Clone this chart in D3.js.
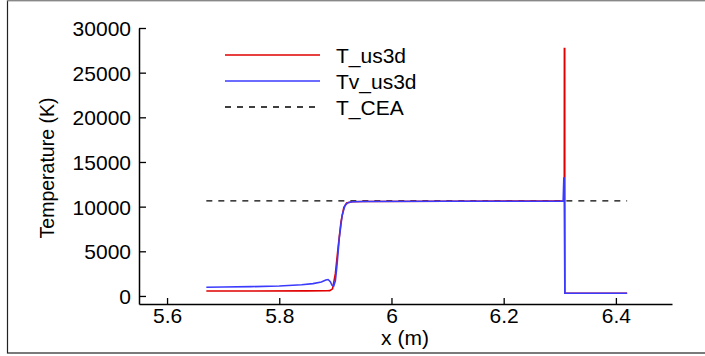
<!DOCTYPE html>
<html><head><meta charset="utf-8">
<script src="https://cdn.jsdelivr.net/npm/d3@7"></script>
<style>html,body{margin:0;padding:0;background:#fff;}svg{display:block;}text{font-family:"Liberation Sans",Arial,sans-serif;fill:#000;}</style>
</head><body><svg id="c" width="705" height="356"></svg>
<script>
// data
const xTicks = [5.6, 5.8, 6, 6.2, 6.4];
const yTicks = [0, 5000, 10000, 15000, 20000, 25000, 30000];
const seriesNames = ["T_us3d", "Tv_us3d", "T_CEA"];
const T_us3d = [[5.67,560],[5.75,560],[5.85,565],[5.885,575],[5.89,600],[5.895,800],[5.9,2500],[5.905,5500],[5.91,8300],[5.915,9900],[5.92,10400],[5.93,10550],[5.95,10580],[6.1,10600],[6.25,10620],[6.305,10630],[6.308,10600],[6.3082,27700],[6.3088,27700],[6.309,300],[6.32,300],[6.42,300]];
const Tv_us3d = [[5.67,980],[5.7,1000],[5.75,1040],[5.8,1120],[5.84,1250],[5.86,1380],[5.875,1570],[5.883,1780],[5.887,1840],[5.891,1600],[5.894,1200],[5.897,1100],[5.9,1700],[5.903,3500],[5.907,6500],[5.912,9000],[5.917,10100],[5.922,10450],[5.93,10550],[5.95,10580],[6.1,10600],[6.25,10610],[6.306,10620],[6.3072,13200],[6.3078,13200],[6.309,300],[6.32,300],[6.42,300]];
const T_CEA = [[5.67,10650],[6.42,10650]];

const svg = d3.select("#c");
const L = 139, R = 672, T = 28, B = 304;
const x = d3.scaleLinear().domain([5.55, 6.5]).range([L, R]);
const y = d3.scaleLinear().domain([-900, 30000]).range([B, T]);

// frame
svg.append("rect").attr("x",7.5).attr("y",0.5).attr("width",710).attr("height",352.5)
  .attr("fill","none").attr("stroke","#222").attr("stroke-width",1.2);
svg.append("line").attr("x1",7).attr("x2",705).attr("y1",0.5).attr("y2",0.5).attr("stroke","#888").attr("stroke-width",1.5);

const xAxis = d3.axisBottom(x).tickValues(xTicks).tickSizeInner(-6).tickSizeOuter(0).tickPadding(4).tickFormat(d3.format("~g"));
const gx = svg.append("g").attr("transform",`translate(0,${B})`).call(xAxis);
const yAxis = d3.axisLeft(y).tickValues(yTicks).tickSizeInner(-7).tickSizeOuter(0).tickPadding(8).tickFormat(d3.format("d"));
const gy = svg.append("g").attr("transform",`translate(${L},0)`).call(yAxis);
[gx, gy].forEach(g => {
  g.select(".domain").attr("stroke","#000").attr("stroke-width",1.5);
  g.selectAll(".tick line").attr("stroke","#000").attr("stroke-width",1.3);
  g.selectAll(".tick text").attr("font-size",21).attr("font-family","Liberation Sans, Arial, sans-serif").attr("fill","#000");
});
gy.selectAll(".tick text").attr("dy","0.36em");

svg.append("text").attr("x",405).attr("y",345).attr("text-anchor","middle").attr("font-size",21).text("x (m)");
svg.append("text").attr("transform","translate(54,168) rotate(-90)").attr("text-anchor","middle").attr("font-size",19.5).text("Temperature (K)");

const line = d3.line().x(d=>x(d[0])).y(d=>y(d[1]));
const colors = ["#e00000", "#3b3bff", "#000"];
svg.append("path").datum(T_CEA).attr("d",line).attr("fill","none").attr("stroke","#000").attr("stroke-width",1.4).attr("stroke-dasharray","6,6");
svg.append("path").datum(T_us3d).attr("d",line).attr("fill","none").attr("stroke",colors[0]).attr("stroke-width",1.6);
svg.append("path").datum(Tv_us3d).attr("d",line).attr("fill","none").attr("stroke",colors[1]).attr("stroke-width",1.6);

// legend
const lg = svg.append("g");
seriesNames.forEach((n,i) => {
  const yy = 55 + i*26;
  lg.append("line").attr("x1",225).attr("x2",320).attr("y1",yy).attr("y2",yy)
    .attr("stroke",colors[i]).attr("stroke-width",i<2?1.6:1.4).attr("stroke-dasharray",i===2?"6,6":null);
  lg.append("text").attr("x",336).attr("y",yy+8).attr("font-size",21).text(n);
});
</script></body></html>
